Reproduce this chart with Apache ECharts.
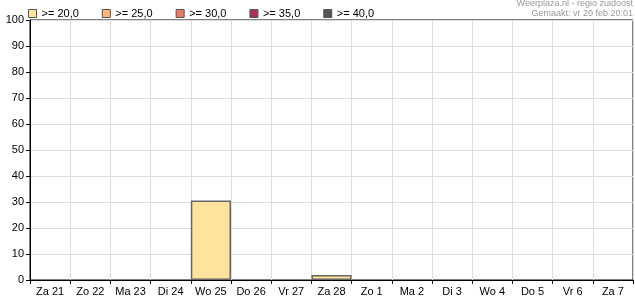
<!DOCTYPE html>
<html><head><meta charset="utf-8">
<script src="https://cdn.jsdelivr.net/npm/echarts@6/dist/echarts.min.js"></script>
<style>html,body{margin:0;padding:0;background:#fff}#c{width:635px;height:300px}</style>
</head><body><div id="c"></div>
<script>
const categories = ['Za 21','Zo 22','Ma 23','Di 24','Wo 25','Do 26','Vr 27','Za 28','Zo 1','Ma 2','Di 3','Wo 4','Do 5','Vr 6','Za 7'];
const seriesNames = ['>= 20,0','>= 25,0','>= 30,0','>= 35,0','>= 40,0'];
const seriesColors = ['#FFE29B','#FFB678','#EE7766','#AA3355','#555555'];
const s20 = [0,0,0,0,30.6,0,0,1.9,0,0,0,0,0,0,0];
const s25 = [0,0,0,0,0,0,0,0,0,0,0,0,0,0,0];
const s30 = [0,0,0,0,0,0,0,0,0,0,0,0,0,0,0];
const s35 = [0,0,0,0,0,0,0,0,0,0,0,0,0,0,0];
const s40 = [0,0,0,0,0,0,0,0,0,0,0,0,0,0,0];
const yTicks = [0,10,20,30,40,50,60,70,80,90,100];
const titleLines = ['Weerplaza.nl - regio zuidoost','Gemaakt: vr 20 feb 20:01'];

const allData = [s20,s25,s30,s35,s40];
const font = 'Arial, "Liberation Sans", sans-serif';
const chart = echarts.init(document.getElementById('c'));
chart.setOption({
  animation:false,
  textStyle:{fontFamily:font},
  graphic:titleLines.map((t,i)=>({
    type:'text', right:2, top:-1+i*10,
    style:{text:t, font:'9px '+font, fill:'#999'}
  })),
  legend:{
    left:28, top:8, itemGap:23, itemWidth:8, itemHeight:8,
    icon:'rect', padding:0,
    selectedMode:false,
    textStyle:{fontSize:11,color:'#000',fontFamily:font},
    data:seriesNames.map((n,i)=>({name:n,itemStyle:{color:seriesColors[i],borderColor:'#555',borderWidth:1}}))
  },
  grid:{left:30,top:20,right:2,bottom:20,show:true,borderColor:'#000',borderWidth:1,backgroundColor:'transparent'},
  xAxis:{
    type:'category', data:categories, boundaryGap:true,
    axisLine:{lineStyle:{color:'#000',width:1}},
    axisTick:{show:true,interval:0,length:4,lineStyle:{color:'#000'}},
    axisLabel:{interval:0,color:'#000',fontSize:11,fontFamily:font,margin:6},
    splitLine:{show:true,interval:0,lineStyle:{color:'#ddd',width:1}}
  },
  yAxis:{
    type:'value', min:yTicks[0], max:yTicks[yTicks.length-1], interval:10,
    axisLine:{show:true,lineStyle:{color:'#000',width:1}},
    axisTick:{show:true,length:4,lineStyle:{color:'#000'}},
    axisLabel:{color:'#000',fontSize:11,fontFamily:font,margin:6},
    splitLine:{show:true,lineStyle:{color:'#ddd',width:1}}
  },
  series:seriesNames.map((n,i)=>({
    name:n, type:'bar', stack:'t', barWidth:'100%', barCategoryGap:0,
    data:allData[i].map(v=>v===0?null:v),
    itemStyle:{color:seriesColors[i],borderColor:'#666',borderWidth:1.5}
  }))
});
</script></body></html>
